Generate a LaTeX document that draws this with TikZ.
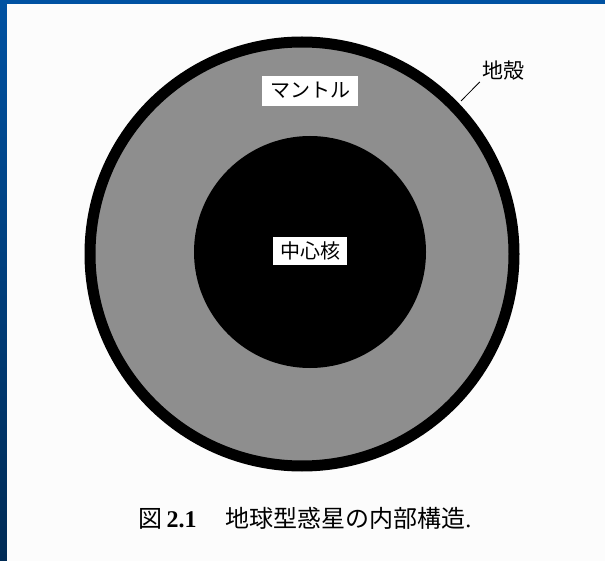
\documentclass[tikz,border=0pt]{standalone}
\usepackage{fontspec}
\newfontfamily\jp{Noto Sans CJK JP}
\newfontfamily\numfont{Liberation Serif}
\definecolor{slideblueA}{HTML}{0052A2}
\definecolor{slideblueB}{HTML}{002B55}
\definecolor{mantlegray}{HTML}{8E8E8E}
\begin{document}
\begin{tikzpicture}[x=1pt,y=-1pt,
  labelbox/.style={fill=white, inner xsep=8pt, inner ysep=5pt,
    text height=17pt, text depth=3pt, font=\jp\fontsize{20}{22}\selectfont},
  plainlabel/.style={inner sep=0pt, font=\jp\fontsize{21}{24}\selectfont},
  leader/.style={line width=0.8pt}]
\useasboundingbox (0,0) rectangle (605,561);
% slide frame and white page
\shade[top color=slideblueA, bottom color=slideblueB] (0,0) rectangle (605,561);
\fill[white!99!black] (7,4) rectangle (605,561);
% crust ring with mantle inside
\draw[line width=11pt, fill=mantlegray] (302,254) circle[radius=212pt];
% core
\fill[black] (310,252) circle[radius=116pt];
% labels
\node[labelbox] (mantle) at (310,91) {マントル};
\node[labelbox, inner xsep=7pt, inner ysep=4pt] (core) at (310,251.5) {中心核};
\node[plainlabel] (crust) at (503,71) {地殻};
\coordinate (crusttip) at (461,101);
\draw[leader] ([xshift=-2pt,yshift=-1pt]crust.south west) -- (crusttip);
% caption
\node[inner sep=0pt, font=\fontsize{24}{28}\selectfont] (caption) at (305,518)
  {{\jp 図}\,{\numfont\bfseries 2.1}\hspace{1.2em}{\jp 地球型惑星の内部構造}{\numfont .}};
\end{tikzpicture}
\end{document}
